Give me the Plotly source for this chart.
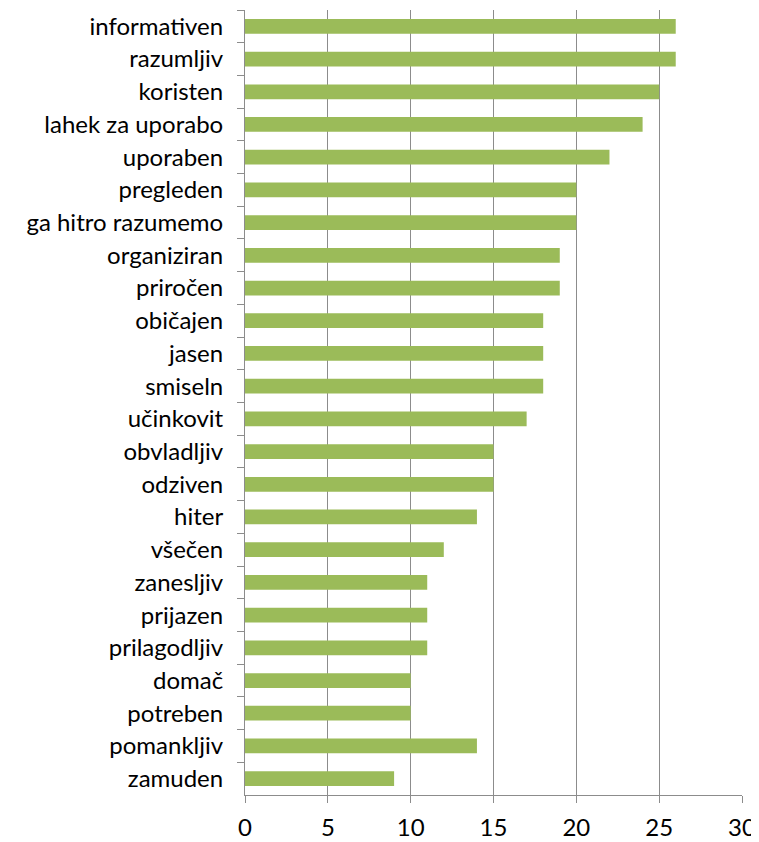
import plotly.graph_objects as go

categories = ["informativen", "razumljiv", "koristen", "lahek za uporabo", "uporaben",
              "pregleden", "ga hitro razumemo", "organiziran", "priročen", "običajen",
              "jasen", "smiseln", "učinkovit", "obvladljiv", "odziven", "hiter",
              "všečen", "zanesljiv", "prijazen", "prilagodljiv", "domač", "potreben",
              "pomankljiv", "zamuden"]
values = [26, 26, 25, 24, 22, 20, 20, 19, 19, 18, 18, 18, 17, 15, 15, 14,
          12, 11, 11, 11, 10, 10, 14, 9]
x_ticks = [0, 5, 10, 15, 20, 25, 30]

fig = go.Figure(go.Bar(
    y=categories, x=values, orientation="h",
    marker=dict(color="#9BBB59", line=dict(width=0)),
))
# page body has an 8px margin; figure sized/offset to compensate
fig.update_layout(
    width=751, height=834,
    margin=dict(l=237, r=17, t=2, b=47),
    paper_bgcolor="white", plot_bgcolor="white",
    bargap=0.55,
    font=dict(family="Lato, Carlito, Arial", size=24, color="black"),
    showlegend=False,
)
fig.update_xaxes(
    range=[0, 30], tickvals=x_ticks, showgrid=True, gridcolor="#8C8C8C", gridwidth=1,
    showline=True, linecolor="#8C8C8C", linewidth=1,
    ticks="outside", ticklen=7, tickcolor="#8C8C8C", zeroline=False,
    tickfont=dict(size=24), ticklabelstandoff=4,
)
fig.update_yaxes(
    autorange="reversed", categoryorder="array", categoryarray=categories,
    showline=True, linecolor="#8C8C8C", linewidth=1,
    ticks="outside", tickson="boundaries", ticklen=7, tickcolor="#8C8C8C",
    showgrid=False, tickfont=dict(size=24), ticklabelstandoff=16,
)
fig.write_html("out.html")
